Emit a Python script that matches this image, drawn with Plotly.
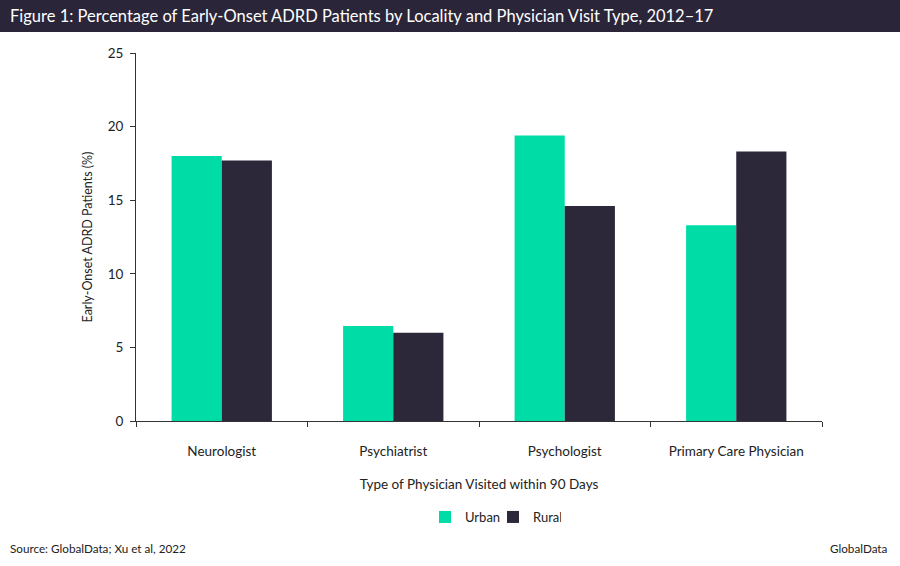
import plotly.graph_objects as go

categories = ["Neurologist", "Psychiatrist", "Psychologist", "Primary Care Physician"]
urban = [18.0, 6.45, 19.4, 13.3]
rural = [17.7, 6.0, 14.6, 18.3]
series_names = ["Urban", "Rural"]
y_ticks = [0, 5, 10, 15, 20, 25]

FONT = "Lato"
URBAN_C = "#00DCA5"
RURAL_C = "#2C2739"

fig = go.Figure()
fig.add_trace(go.Bar(x=categories, y=urban, name=series_names[0], marker=dict(color=URBAN_C, line=dict(width=0))))
fig.add_trace(go.Bar(x=categories, y=rural, name=series_names[1], marker=dict(color=RURAL_C, line=dict(width=0))))

W, H = 900, 566
L, R, T, B = 136, 78, 53, 145
ph = H - T - B
pw = W - L - R

fig.update_layout(
    width=W, height=H,
    margin=dict(l=L, r=R, t=T, b=B),
    paper_bgcolor="white", plot_bgcolor="white",
    barmode="group", bargap=0.415, bargroupgap=0,
    font=dict(family=FONT, size=12, color="#222222"),
    showlegend=True,
    legend=dict(orientation="h", x=(425 - L) / pw, xanchor="left", y=-(517 - 421) / ph, yanchor="middle",
                font=dict(family=FONT, size=13, color="#222222"), entrywidth=23, entrywidthmode="pixels",
                itemwidth=30, traceorder="normal"),
    xaxis=dict(
        showline=True, linecolor="#333333", linewidth=1,
        ticks="outside", ticklen=5, tickcolor="#333333", tickson="boundaries",
        ticklabelstandoff=18,
        tickfont=dict(family=FONT, size=13.5, color="#222222"),
        title=dict(text="Type of Physician Visited within 90 Days", font=dict(family=FONT, size=13.5, color="#222222"), standoff=21),
        showgrid=False,
    ),
    yaxis=dict(
        range=[0, 25], tickvals=y_ticks, showline=True, linecolor="#333333", linewidth=1,
        ticks="outside", ticklen=5, tickcolor="#333333", showgrid=False, zeroline=False,
        ticklabelstandoff=4,
        tickfont=dict(family=FONT, size=13.5, color="#222222"),
        title=dict(text="Early-Onset ADRD Patients (%)", font=dict(family=FONT, size=12.5, color="#222222"), standoff=12),
    ),
    shapes=[dict(type="rect", xref="paper", yref="paper", x0=-L / pw, x1=1 + R / pw,
                 y0=1 + (T - 32) / ph, y1=1 + T / ph, fillcolor="#2B2539", line=dict(width=0), layer="above")],
    annotations=[
        dict(text="Figure 1: Percentage of Early-Onset ADRD Patients by Locality and Physician Visit Type, 2012–17",
             xref="paper", yref="paper", x=-(L - 8) / pw, xanchor="left",
             y=1 + (T - 16) / ph, yanchor="middle", showarrow=False,
             font=dict(family=FONT, size=16.5, color="white")),
        dict(text="Source: GlobalData; Xu et al, 2022", xref="paper", yref="paper",
             x=-(L - 8) / pw, xanchor="left", y=-(548 - 421) / ph, yanchor="middle",
             showarrow=False, font=dict(family=FONT, size=11.7, color="#222222")),
        dict(text="GlobalData", xref="paper", yref="paper",
             x=1 + (R - 10) / pw, xanchor="right", y=-(548 - 421) / ph, yanchor="middle",
             showarrow=False, font=dict(family=FONT, size=11.7, color="#222222")),
    ],
)

fig.write_html("out.html", config={"displayModeBar": False},
               post_script="document.body.style.margin='0';document.body.style.overflow='hidden';")
